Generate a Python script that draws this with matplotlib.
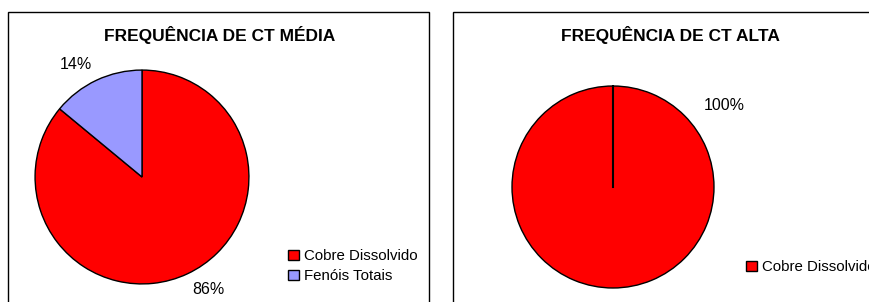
import matplotlib as mpl
mpl.use('Agg')
import matplotlib.pyplot as plt
from matplotlib.patches import Rectangle
import numpy as np

plt.rcParams['font.family'] = ['Liberation Sans', 'DejaVu Sans']

# data
media_labels = ['Cobre Dissolvido', 'Fenóis Totais']
media_values = [86, 14]
media_colors = ['#FF0000', '#9999FF']

alta_labels = ['Cobre Dissolvido']
alta_values = [100]
alta_colors = ['#FF0000']

W, H = 869, 302
fig = plt.figure(figsize=(W / 100, H / 100), dpi=100)


def px_axes(left, top, width, height):
  # axes from pixel box (top-left origin)
  return fig.add_axes([left / W, 1 - (top + height) / H, width / W, height / H])


# chart area frames
for x0, x1 in [(8, 429), (453, 900)]:
  fig.patches.append(Rectangle((x0 / W, -0.2), (x1 - x0) / W, 1.2 - 12 / H,
                               transform=fig.transFigure, fill=False,
                               edgecolor='black', lw=1.0))

# --- left: CT media
r = 108
ax1 = px_axes(142 - r, 177 - r, 2 * r, 2 * r)
wedges1, _, auto1 = ax1.pie(media_values, colors=media_colors, startangle=90,
                            counterclock=False, autopct='%1.0f%%', pctdistance=1.24,
                            wedgeprops=dict(edgecolor='black', linewidth=1.0),
                            textprops=dict(fontsize=11.5))
# excel-like label placement
for t, ang in zip(auto1, [-59.5, 120.5]):
  a = np.deg2rad(ang)
  t.set_position((1.22 * np.cos(a), 1.22 * np.sin(a)))
ax1.set_xlim(-1.01, 1.01)
ax1.set_ylim(-1.01, 1.01)
ax1.set_axis_off()
fig.text(220 / W, 1 - 35 / H, 'FREQUÊNCIA DE CT MÉDIA', ha='center', va='center',
         fontsize=12.5, fontweight='bold')
fig.legend(wedges1, media_labels, loc='center left', bbox_to_anchor=(288 / W, 1 - 266 / H),
           frameon=False, fontsize=10.8, handlelength=0.7, handleheight=0.7,
           handletextpad=0.4, labelspacing=0.4, borderpad=0, borderaxespad=0)

# --- right: CT alta
r2 = 102
ax2 = px_axes(613 - r2, 187 - r2, 2 * r2, 2 * r2)
wedges2, _ = ax2.pie(alta_values, colors=alta_colors, startangle=90, counterclock=False,
                     wedgeprops=dict(edgecolor='black', linewidth=1.0))
# radial edge at the start angle
ax2.plot([0, 0], [0, 1], color='black', lw=1.5)
ax2.text(1.10, 0.81, '%d%%' % alta_values[0], ha='center', va='center', fontsize=11.5)
ax2.set_xlim(-1.01, 1.01)
ax2.set_ylim(-1.01, 1.01)
ax2.set_axis_off()
fig.text(670 / W, 1 - 35 / H, 'FREQUÊNCIA DE CT ALTA', ha='center', va='center',
         fontsize=12.5, fontweight='bold')
fig.legend(wedges2, alta_labels, loc='center left', bbox_to_anchor=(746 / W, 1 - 267 / H),
           frameon=False, fontsize=10.8, handlelength=0.7, handleheight=0.7,
           handletextpad=0.4, borderpad=0, borderaxespad=0)

plt.savefig('out.png', dpi=100)
